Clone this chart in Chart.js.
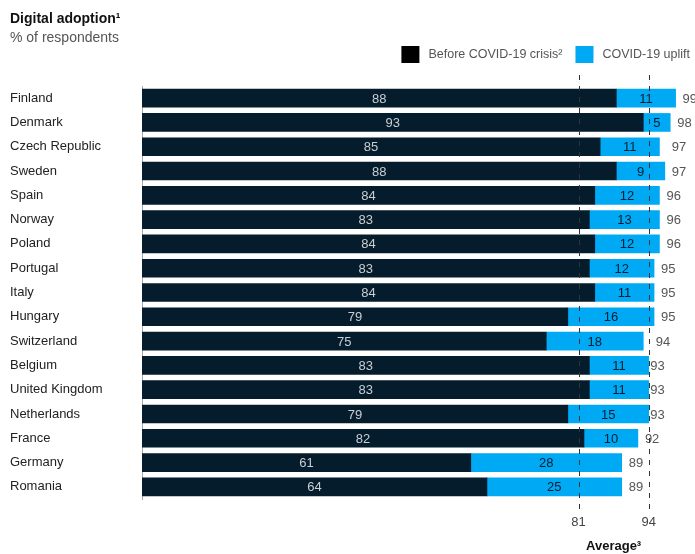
<!DOCTYPE html>
<html>
<head>
<meta charset="utf-8">
<script src="https://cdn.jsdelivr.net/npm/chart.js@4"></script>
<style>
  body { margin: 0; background: #fff; font-family: "Liberation Sans", Arial, sans-serif; }
  #wrap { position: relative; width: 695px; height: 554px; }
  #title { position: absolute; left: 10px; top: 10px; font-size: 14px; font-weight: bold; color: #111; }
  #sub { position: absolute; left: 10px; top: 29px; font-size: 14px; color: #555; }
</style>
</head>
<body>
<div id="wrap">
  <canvas id="chart" width="695" height="554"></canvas>
  <div id="title">Digital adoption¹</div>
  <div id="sub">% of respondents</div>
</div>
<script>
const countries = ["Finland", "Denmark", "Czech Republic", "Sweden", "Spain", "Norway", "Poland",
  "Portugal", "Italy", "Hungary", "Switzerland", "Belgium", "United Kingdom", "Netherlands",
  "France", "Germany", "Romania"];
const beforeCovid = [88, 93, 85, 88, 84, 83, 84, 83, 84, 79, 75, 83, 83, 79, 82, 61, 64];
const uplift = [11, 5, 11, 9, 12, 13, 12, 12, 11, 16, 18, 11, 11, 15, 10, 28, 25];
const totals = [99, 98, 97, 97, 96, 96, 96, 95, 95, 95, 94, 93, 93, 93, 92, 89, 89];
const averages = [81, 94];

const DARK = "#051c2c";
const BLUE = "#00a9f4";
const FONT = "'Liberation Sans', Arial, sans-serif";

// legend drawn at the top right, boxes + text
const legendPlugin = {
  id: "topLegend",
  afterDraw(chart) {
    const ctx = chart.ctx;
    const items = chart.data.datasets.map((d, i) => ({ text: d.label, color: i === 0 ? "#000" : BLUE }));
    ctx.save();
    ctx.font = "12.5px " + FONT;
    ctx.textBaseline = "middle";
    ctx.textAlign = "left";
    let x = 690;
    for (let i = items.length - 1; i >= 0; i--) {
      const w = ctx.measureText(items[i].text).width;
      x -= w;
      ctx.fillStyle = "#555";
      ctx.fillText(items[i].text, x, 55);
      x -= 9 + 18;
      ctx.fillStyle = items[i].color;
      ctx.fillRect(x, 46, 18, 17);
      x -= 13;
    }
    ctx.restore();
  }
};

// labels in bars, totals, average lines
const labelPlugin = {
  id: "labels",
  afterDatasetsDraw(chart) {
    const ctx = chart.ctx;
    const x = chart.scales.x;
    ctx.save();
    ctx.font = "13px " + FONT;
    ctx.textBaseline = "middle";
    ctx.textAlign = "center";
    chart.getDatasetMeta(0).data.forEach((bar, i) => {
      ctx.fillStyle = "#c9ced3";
      ctx.fillText(beforeCovid[i], (bar.base + bar.x) / 2, bar.y + 1);
    });
    chart.getDatasetMeta(1).data.forEach((bar, i) => {
      ctx.fillStyle = DARK;
      ctx.fillText(uplift[i], (bar.base + bar.x) / 2, bar.y + 1);
      ctx.fillStyle = "#555";
      ctx.textAlign = "left";
      ctx.fillText(totals[i], x.getPixelForValue(totals[i]) + 7, bar.y + 1);
      ctx.textAlign = "center";
    });

    // dashed average lines
    const top = chart.chartArea.top - 11;
    const bottom = chart.chartArea.bottom + 10;
    ctx.strokeStyle = "#333";
    ctx.lineWidth = 1;
    ctx.setLineDash([5, 6]);
    averages.forEach(v => {
      const px = Math.round(x.getPixelForValue(v)) + 0.5;
      ctx.beginPath();
      ctx.moveTo(px, top);
      ctx.lineTo(px, bottom);
      ctx.stroke();
    });
    ctx.setLineDash([]);
    ctx.fillStyle = "#444";
    ctx.font = "13px " + FONT;
    averages.forEach(v => {
      ctx.fillText(v, x.getPixelForValue(v), chart.chartArea.bottom + 23);
    });
    ctx.fillStyle = "#111";
    ctx.font = "bold 13px " + FONT;
    const mid = (x.getPixelForValue(averages[0]) + x.getPixelForValue(averages[1])) / 2;
    ctx.fillText("Average³", mid, chart.chartArea.bottom + 47);
    ctx.restore();
  }
};

new Chart(document.getElementById("chart"), {
  type: "bar",
  data: {
    labels: countries,
    datasets: [
      { label: "Before COVID-19 crisis²", data: beforeCovid, backgroundColor: DARK, barThickness: 18 },
      { label: "COVID-19 uplift", data: uplift, backgroundColor: BLUE, barThickness: 18 }
    ]
  },
  options: {
    indexAxis: "y",
    responsive: false,
    animation: false,
    layout: { padding: { top: 86, left: 10, right: 14, bottom: 55 } },
    plugins: {
      tooltip: { enabled: false },
      legend: { display: false }
    },
    scales: {
      x: {
        stacked: true,
        display: false,
        min: 0,
        max: 100
      },
      y: {
        stacked: true,
        grid: { display: false, drawTicks: false },
        border: { display: true, color: "#aaa", width: 1 },
        afterFit(scale) { scale.width = 132; },
        ticks: {
          crossAlign: "far",
          padding: 0,
          color: "#222",
          font: { size: 13, family: FONT }
        }
      }
    }
  },
  plugins: [labelPlugin, legendPlugin]
});
</script>
</body>
</html>
